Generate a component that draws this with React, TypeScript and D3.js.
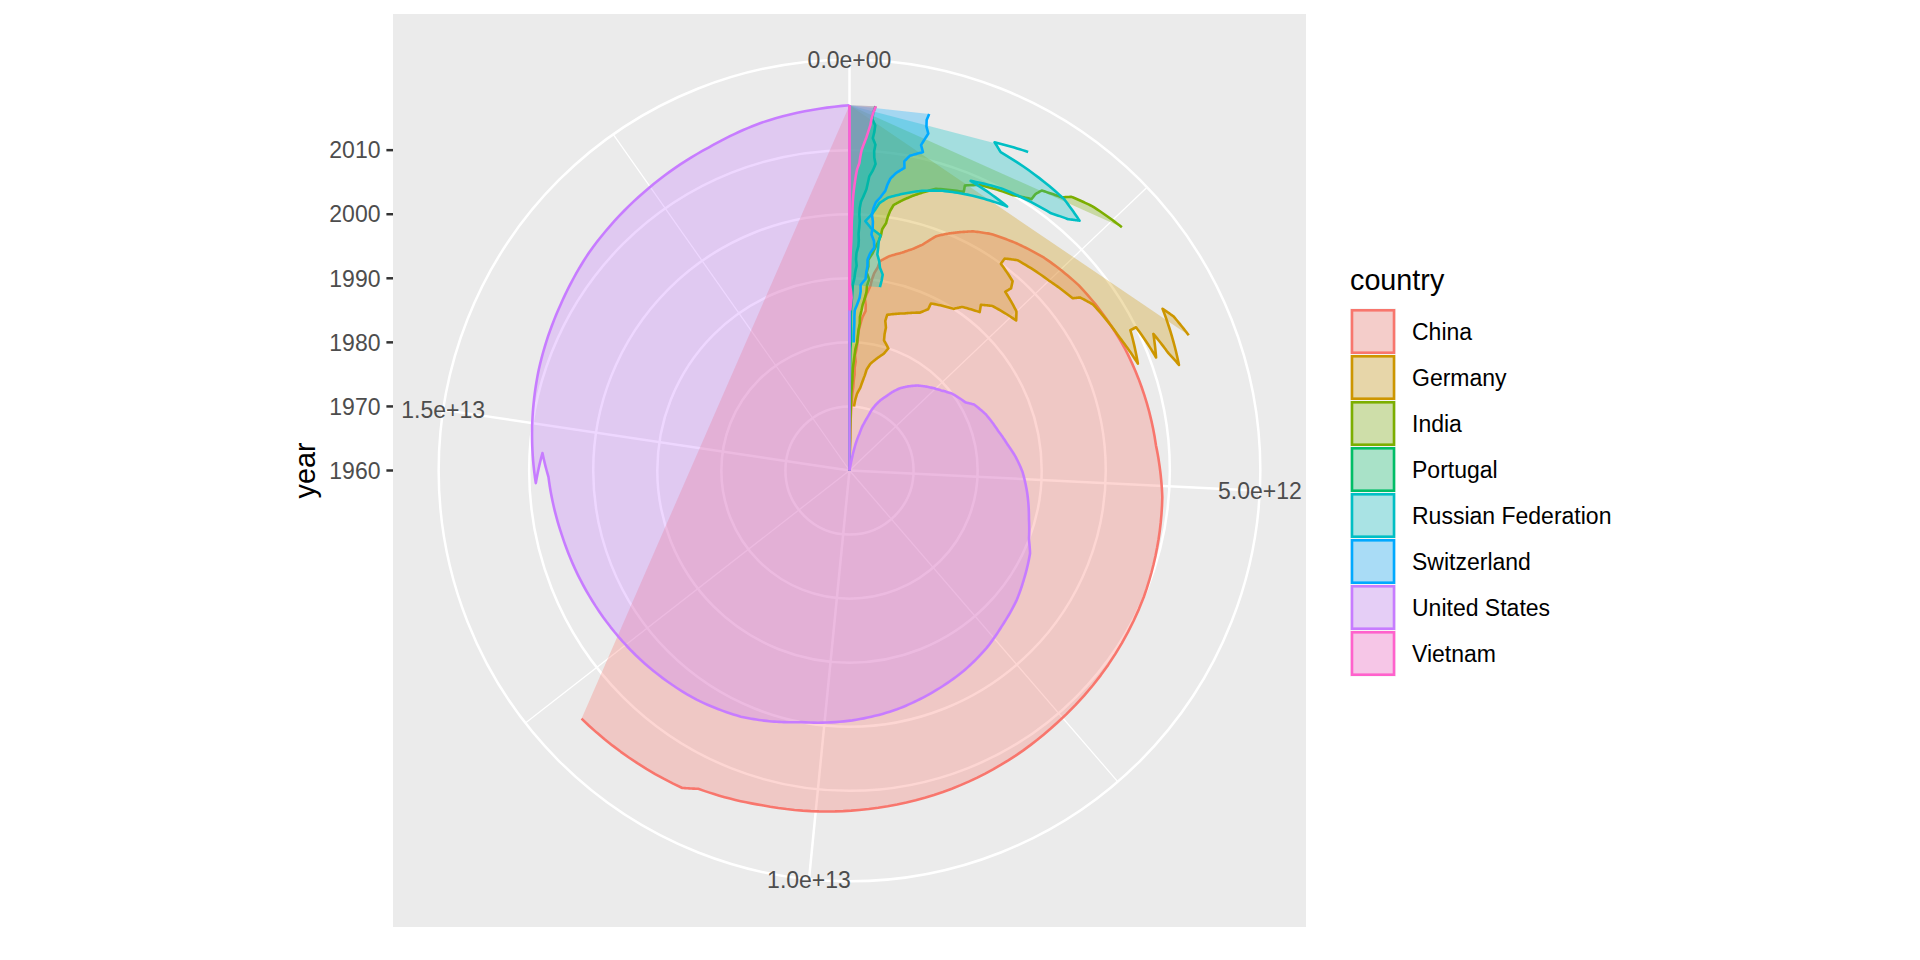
import * as d3 from 'd3';

// GDP, current US$ (billions), one value per year from each country's start year
const countries = ['China', 'Germany', 'India', 'Portugal', 'Russian Federation', 'Switzerland', 'United States', 'Vietnam'];
const countryColors = ['#F8766D', '#CD9600', '#7CAE00', '#00BE67', '#00BFC4', '#00A9FF', '#C77CFF', '#FF61CC'];
const startYears = [1960, 1970, 1960, 1960, 1989, 1980, 1960, 1985];

const chinaGdp = [
  59.7, 50.1, 47.2, 50.7, 59.7, 70.4, 76.7, 72.9, 70.8, 79.7,
  92.6, 99.8, 113.7, 138.5, 144.2, 163.4, 153.9, 174.9, 149.5, 178.3,
  191.1, 195.9, 205.1, 230.7, 259.9, 309.5, 300.8, 273.0, 312.4, 347.8,
  360.9, 383.4, 426.9, 444.7, 564.3, 734.5, 863.7, 961.6, 1029.0, 1094.0,
  1211.3, 1339.4, 1470.6, 1660.3, 1955.3, 2286.0, 2752.1, 3552.2, 4598.2, 5110.0,
  6100.6, 7572.6, 8560.5, 9607.2, 10482.4, 11064.7, 11191.0, 12237.7,
];
const germanyGdp = [
  215.8, 249.0, 299.8, 398.4, 445.3, 490.6, 519.8, 600.2, 740.4, 881.3,
  950.3, 800.5, 776.6, 770.7, 725.1, 732.5, 1046.3, 1298.2, 1401.2, 1398.9,
  1765.0, 1861.9, 2123.1, 2068.6, 2205.1, 2585.8, 2497.2, 2212.0, 2239.0, 2194.9,
  1950.0, 1950.6, 2079.1, 2505.7, 2819.2, 2861.4, 3002.4, 3440.0, 3752.4, 3418.0,
  3417.1, 3757.7, 3544.0, 3752.5, 3890.6, 3375.6, 3477.8, 3677.4,
];
const indiaGdp = [
  36.5, 38.7, 41.6, 47.0, 55.8, 58.8, 45.3, 49.5, 52.4, 57.7,
  61.6, 66.5, 70.5, 84.4, 98.5, 97.2, 101.4, 119.9, 135.5, 151.0,
  183.8, 190.9, 198.0, 215.4, 209.3, 229.4, 245.7, 275.3, 292.6, 292.1,
  316.7, 266.5, 284.4, 275.6, 322.9, 355.5, 387.7, 410.3, 415.7, 452.7,
  462.1, 479.0, 508.1, 599.6, 699.7, 808.9, 920.3, 1201.1, 1187.0, 1323.9,
  1656.6, 1823.1, 1827.6, 1856.7, 2039.1, 2103.6, 2290.4, 2597.5,
];
const portugalGdp = [
  3.2, 3.4, 3.7, 4.0, 4.3, 4.9, 5.3, 6.0, 6.7, 7.3,
  8.1, 8.9, 10.4, 13.6, 15.2, 16.0, 16.6, 19.0, 20.4, 22.7,
  32.9, 30.3, 28.4, 24.5, 22.9, 27.2, 37.1, 45.4, 51.3, 55.0,
  78.5, 89.2, 107.6, 95.0, 99.7, 122.2, 124.3, 117.8, 123.7, 126.8,
  118.4, 120.2, 131.6, 161.5, 186.0, 196.9, 207.6, 239.9, 262.0, 243.7,
  238.1, 245.1, 216.4, 226.1, 229.9, 199.3, 205.2, 219.3,
];
const russiaGdp = [
  506.5, 516.8, 518.0, 460.3, 435.1, 395.1, 395.5, 391.7, 404.9, 271.0,
  195.9, 259.7, 306.6, 345.1, 430.3, 591.0, 764.0, 989.9, 1299.7, 1660.8,
  1222.6, 1524.9, 2051.7, 2210.3, 2297.1, 2063.7, 1368.4, 1284.7, 1577.5,
];
const switzerlandGdp = [
  102.7, 98.9, 100.5, 101.8, 98.1, 100.6, 144.6, 180.5, 191.9, 184.6,
  258.5, 260.6, 271.0, 263.5, 290.2, 341.5, 328.8, 286.3, 293.9, 289.6,
  271.7, 278.5, 301.1, 351.5, 393.1, 407.3, 429.6, 479.1, 554.4, 541.5,
  583.8, 699.6, 668.0, 688.5, 709.2, 679.3, 668.8, 678.9,
];
const usGdp = [
  543.3, 563.3, 605.1, 638.6, 685.8, 743.7, 815.0, 861.7, 942.5, 1019.9,
  1075.9, 1167.8, 1282.4, 1428.5, 1548.8, 1688.9, 1877.6, 2086.0, 2356.6, 2632.1,
  2862.5, 3211.0, 3345.0, 3638.1, 4040.7, 4346.7, 4590.2, 4870.2, 5252.6, 5657.7,
  5979.6, 6174.0, 6539.3, 6878.7, 7308.8, 7664.1, 8100.2, 8608.5, 9089.2, 9660.6,
  10284.8, 10621.8, 10977.5, 11510.7, 12274.9, 13093.7, 13855.9, 14477.6, 14718.6, 14418.7,
  14964.4, 15517.9, 16155.3, 16691.5, 17427.6, 18120.7, 18624.5, 19390.6,
];
const vietnamGdp = [
  14.1, 26.3, 36.7, 25.4, 6.3, 6.5, 9.6, 9.9, 13.2, 16.3,
  20.7, 24.7, 26.8, 27.2, 28.7, 33.6, 35.3, 37.9, 42.7, 49.4,
  57.6, 66.4, 77.4, 99.1, 106.0, 115.9, 135.5, 155.8, 171.2, 186.2,
  193.2, 205.3, 223.8,
];
const gdpSeries = [chinaGdp, germanyGdp, indiaGdp, portugalGdp, russiaGdp, switzerlandGdp, usGdp, vietnamGdp];

const yearTicks = [1960, 1970, 1980, 1990, 2000, 2010];
const gdpTicks = [0, 5e12, 1e13, 1.5e13];
const gdpMinorTicks = [2.5e12, 7.5e12, 1.25e13, 1.75e13];

const FONT = 'Liberation Sans, Arial, Helvetica, sans-serif';

// R style scientific labels: 5.0e+12
function sci(v: number) {
  if (v === 0) return '0.0e+00';
  const e = Math.floor(Math.log10(Math.abs(v)));
  const m = v / Math.pow(10, e);
  return m.toFixed(1) + 'e' + (e < 0 ? '-' : '+') + String(Math.abs(e)).padStart(2, '0');
}

export default function App() {
  const W = 1920, H = 960;
  const px = 393, py = 14, P = 913;
  const cx = px + P / 2, cy = py + P / 2;
  const R0 = 0.4 * P, RL = 0.45 * P;
  const gridMajor = 2.5, gridMinor = 1.25, lw = 2.6;
  const small = 23, big = 28.75;

  const series = countries.map((c, i) => ({
    country: c,
    color: countryColors[i],
    points: gdpSeries[i].map((v, j) => ({ year: startYears[i] + j, gdp: v * 1e9 })),
  }));
  const allPts = series.flatMap(s => s.points);

  const theta = d3.scaleLinear().domain([0, d3.max(allPts, d => d.gdp) as number]).range([0, 2 * Math.PI]);
  const radius = d3.scaleLinear().domain(d3.extent(allPts, d => d.year) as [number, number]).range([0, R0]);

  const polar = (year: number, gdp: number): [number, number] => {
    const r = radius(year), t = theta(gdp);
    return [cx + r * Math.sin(t), cy - r * Math.cos(t)];
  };
  // interpolate in data space like coord_munch
  const munch = (pts: { year: number; gdp: number }[]) => {
    const out: [number, number][] = [];
    for (let i = 0; i < pts.length - 1; i++) {
      const a = pts[i], b = pts[i + 1];
      for (let k = 0; k < 12; k++) {
        const t = k / 12;
        out.push(polar(a.year + (b.year - a.year) * t, a.gdp + (b.gdp - a.gdp) * t));
      }
    }
    const last = pts[pts.length - 1];
    out.push(polar(last.year, last.gdp));
    return out;
  };
  const line = d3.line();

  return (
    <div style={{ position: 'absolute', left: 0, top: 0 }}>
      <svg width={W} height={H} style={{ display: 'block', background: '#FFFFFF' }} fontFamily={FONT}>
        <defs>
          <clipPath id="panel">
            <rect x={px} y={py} width={P} height={P} />
          </clipPath>
        </defs>
        <rect x={px} y={py} width={P} height={P} fill="#EBEBEB" />
        <g clipPath="url(#panel)">
          {gdpTicks.map(v => (
            <line key={'M' + v} x1={cx} y1={cy} x2={cx + RL * Math.sin(theta(v))} y2={cy - RL * Math.cos(theta(v))}
              stroke="#FFFFFF" strokeWidth={gridMajor} />
          ))}
          {gdpMinorTicks.map(v => (
            <line key={'m' + v} x1={cx} y1={cy} x2={cx + RL * Math.sin(theta(v))} y2={cy - RL * Math.cos(theta(v))}
              stroke="#FFFFFF" strokeWidth={gridMinor} />
          ))}
          {yearTicks.map(y => (
            <circle key={y} cx={cx} cy={cy} r={radius(y)} fill="none" stroke="#FFFFFF" strokeWidth={gridMajor} />
          ))}
          <circle cx={cx} cy={cy} r={RL} fill="none" stroke="#FFFFFF" strokeWidth={gridMajor} />

          {series.map(s => {
            const upper = munch(s.points);
            const first = s.points[0], last = s.points[s.points.length - 1];
            const lower: [number, number][] = [polar(last.year, 0), polar(first.year, 0)];
            return (
              <g key={s.country}>
                <path d={line([...upper, ...lower]) + 'Z'} fill={s.color} fillOpacity={0.3} stroke="none" />
                <path d={line(upper) as string} fill="none" stroke={s.color} strokeWidth={lw} strokeLinejoin="round" />
                <path d={line(lower) as string} fill="none" stroke={s.color} strokeWidth={lw} />
              </g>
            );
          })}
        </g>

        {gdpTicks.map(v => (
          <text key={'t' + v} x={cx + RL * Math.sin(theta(v))} y={cy - RL * Math.cos(theta(v))} dy="0.36em"
            textAnchor="middle" fontSize={small} fill="#4D4D4D">{sci(v)}</text>
        ))}

        {yearTicks.map(y => (
          <g key={'y' + y}>
            <line x1={px - 6.6} x2={px} y1={cy - radius(y)} y2={cy - radius(y)} stroke="#333333" strokeWidth={gridMajor} />
            <text x={px - 12.5} y={cy - radius(y)} dy="0.36em" textAnchor="end" fontSize={small} fill="#4D4D4D">{y}</text>
          </g>
        ))}
        <text transform={`translate(315,${cy}) rotate(-90)`} textAnchor="middle" fontSize={big} fill="#000000">year</text>

        <text x={1350} y={290} fontSize={big} fill="#000000">country</text>
        {series.map((s, i) => {
          const ky = 308.5 + i * 46;
          return (
            <g key={'k' + s.country}>
              <rect x={1350} y={ky} width={46} height={46} fill="#F2F2F2" />
              <rect x={1352} y={ky + 1.8} width={42} height={42.4} fill={s.color} fillOpacity={0.3}
                stroke={s.color} strokeWidth={2.6} />
              <text x={1412} y={ky + 23} dy="0.36em" fontSize={small} fill="#000000">{s.country}</text>
            </g>
          );
        })}
      </svg>
    </div>
  );
}
